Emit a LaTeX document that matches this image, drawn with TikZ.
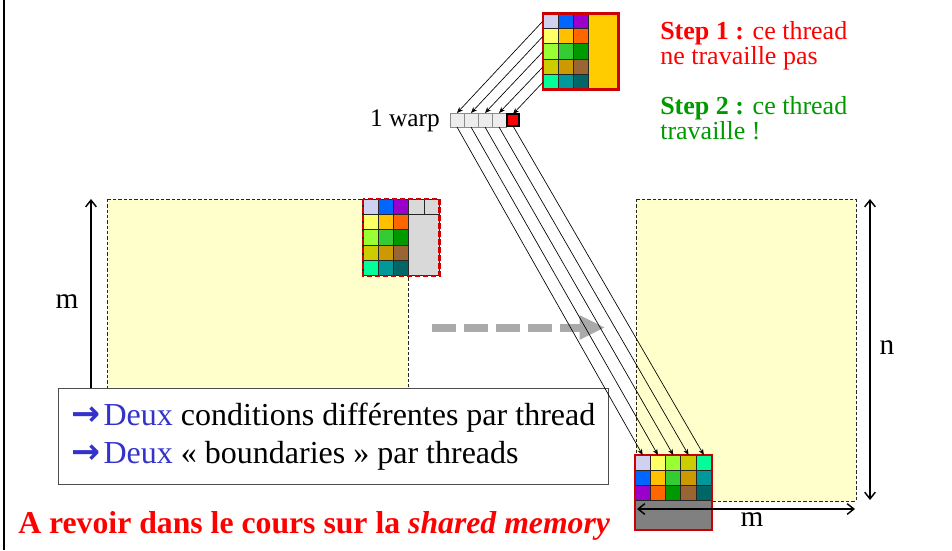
\documentclass[tikz,border=0pt]{standalone}
\usepackage{fontspec}
\setmainfont{Liberation Serif}
\newfontfamily\arrowfont{DejaVu Sans}
\usetikzlibrary{arrows.meta}

% colours of the tile
\definecolor{src11}{RGB}{208,208,240}
\definecolor{src12}{RGB}{0,102,255}
\definecolor{src13}{RGB}{153,0,204}
\definecolor{src21}{RGB}{255,255,102}
\definecolor{src22}{RGB}{255,192,0}
\definecolor{src23}{RGB}{255,102,0}
\definecolor{src31}{RGB}{153,255,51}
\definecolor{src32}{RGB}{51,204,51}
\definecolor{src33}{RGB}{0,153,0}
\definecolor{src41}{RGB}{204,204,0}
\definecolor{src42}{RGB}{204,153,0}
\definecolor{src43}{RGB}{153,102,51}
\definecolor{src51}{RGB}{0,255,153}
\definecolor{src52}{RGB}{0,153,153}
\definecolor{src53}{RGB}{0,102,102}
\definecolor{srcgold}{RGB}{255,204,0}
\definecolor{tilered}{RGB}{204,0,0}
\definecolor{matyellow}{RGB}{255,255,204}
\definecolor{tilegray}{RGB}{217,217,217}
\definecolor{restgray}{RGB}{128,128,128}
\definecolor{deuxblue}{RGB}{51,51,204}
\definecolor{stepgreen}{RGB}{0,153,0}
\definecolor{flowgray}{RGB}{170,170,170}

\newcommand{\deux}{\textcolor{deuxblue}{{\arrowfont\bfseries\fontsize{26}{28}\selectfont →}\hspace{2pt}Deux}}

\tikzset{
  cell/.style={draw=black!85, line width=0.8pt, minimum size=11.475pt, inner sep=0pt, outer sep=0pt},
  wcell/.style={draw=black!45, fill=black!7, line width=0.75pt, minimum size=10.5pt, inner sep=0pt, outer sep=0pt},
  zone/.style={draw=black!85, dash pattern=on 2.5pt off 1.5pt, fill=matyellow, line width=0.6pt},
  link/.style={-{Stealth[length=4.5pt,width=3.6pt]}, line width=0.5pt},
  dim/.style={{Straight Barb[length=5pt,width=8pt]}-{Straight Barb[length=5pt,width=8pt]}, line width=1.1pt},
  lbl/.style={font=\fontsize{22}{24}\selectfont, inner sep=0pt}
}

\begin{document}
\begin{tikzpicture}[x=0.75pt,y=-0.75pt]
\useasboundingbox (0,0) rectangle (952,550);

\draw[line width=2pt] (4,0) -- (4,550);

% the two matrices
\draw[zone] (107,199) rectangle (408,420);
\draw[zone] (636,199) rectangle (856,501);

% m, left
\coordinate (mlo) at (91,420);
\coordinate (mhi) at (91,199);
\draw[{Straight Barb[length=5pt,width=8pt]}-, line width=1.1pt] (mhi) -- (mlo);
\node[lbl] (mleft) at (67,302) {m};

% notes
\node[draw=black!70, fill=white, line width=0.9pt, anchor=north west, minimum width=412.5pt,
  minimum height=72pt, inner xsep=0pt, align=left,
  font=\fontsize{24}{28.5}\selectfont] (notes) at (58,388)
  {\deux{} conditions différentes par thread\\
   \deux{} « boundaries » par threads};

% source tile
\foreach \row in {1,...,5}
  \foreach \col in {1,2,3}
    \node[cell, fill=src\row\col] (s-\row-\col) at ({543+15.3*(\col-0.5)},{13.3+15.3*(\row-0.5)}) {};
\node[fill=srcgold, inner sep=0pt, outer sep=0pt, minimum width=22pt, minimum height=57.4pt,
  anchor=north west] (s-rest) at (s-1-3.north east) {};
\draw[tilered, line width=2.2pt] (s-1-1.north west) rectangle (s-rest.south east);

% tile in the input matrix
\foreach \row in {1,...,5}
  \foreach \col in {1,2,3}
    \node[cell, fill=src\row\col] (t-\row-\col) at ({363+15.3*(\col-0.5)},{199.3+15.3*(\row-0.5)}) {};
\node[cell, fill=tilegray] (t-1-4) at ({363+15.3*3.5},{199.3+15.3*0.5}) {};
\node[cell, fill=tilegray] (t-1-5) at ({363+15.3*4.5},{199.3+15.3*0.5}) {};
\node[cell, fill=tilegray, minimum width=22.95pt, minimum height=45.9pt, anchor=north west]
  (t-rest) at (t-2-3.north east) {};
\draw[tilered, line width=1.6pt, dash pattern=on 4pt off 2pt] (t-1-1.north west) rectangle (t-rest.south east);

% tile in the output matrix
\foreach \row in {1,2,3}
  \foreach \col in {1,...,5}
    \node[cell, fill=src\col\row] (d-\row-\col) at ({635+15.3*(\col-0.5)},{455+15.3*(\row-0.5)}) {};
\node[cell, fill=restgray, minimum width=57.4pt, minimum height=21.75pt, anchor=north west]
  (d-rest) at (d-3-1.south west) {};
\draw[tilered, line width=1.5pt] (d-1-1.north west) rectangle (d-rest.south east);

% copy from input to output
\coordinate (flowfrom) at (432,327.5);
\coordinate (flowto) at (605,327.5);
\draw[flowgray, line width=6pt, dash pattern=on 18pt off 6pt,
  -{Triangle[length=19pt,width=17pt]}] (flowfrom) -- (flowto);

% the warp
\foreach \i in {1,...,4}
  \node[wcell] (w-\i) at ({457+14*(\i-1)},120) {};
\node[wcell, fill=red, draw=black, line width=1.8pt, minimum size=9pt] (w-5) at (513,120) {};
\node[anchor=base east, inner sep=0pt, font=\fontsize{19}{21}\selectfont] (warplbl) at (440,126) {1 warp};

\foreach \i in {1,...,5}
  \draw[link] (s-\i-1.west) -- (w-\i.north);
\foreach \i in {1,...,5}
  \draw[link] (w-\i.south) -- (d-1-\i.north);

% n and m, right
\coordinate (ntop) at (870,199);
\coordinate (nbot) at (870,500);
\draw[dim] (ntop) -- (nbot);
\node[lbl] (nright) at (887,348) {n};
\coordinate (mwest) at (637,509);
\coordinate (meast) at (855,509);
\draw[dim] (mwest) -- (meast);
\node[lbl] (mbottom) at (752,520) {m};

% steps
\node[anchor=north west, align=left, inner sep=0pt, text=red,
  font=\fontsize{19.5}{18.75}\selectfont] (step1) at (660,21)
  {\textbf{Step 1 :} ce thread\\ne travaille pas};
\node[anchor=north west, align=left, inner sep=0pt, text=stepgreen,
  font=\fontsize{19.5}{18.75}\selectfont] (step2) at (660,96)
  {\textbf{Step 2 :} ce thread\\travaille !};

\node[anchor=base west, inner sep=0pt, text=red, font=\fontsize{23.8}{26}\selectfont\bfseries]
  (revoir) at (18,533) {A revoir dans le cours sur la \textit{shared memory}};

\end{tikzpicture}
\end{document}
